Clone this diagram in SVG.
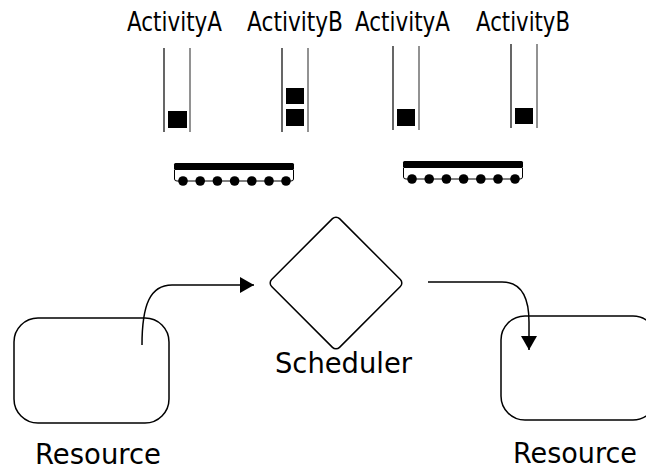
<svg xmlns="http://www.w3.org/2000/svg" width="646" height="470" viewBox="0 0 646 470">
<defs>
<style>
text{font-family:"DejaVu Sans","Liberation Sans",sans-serif;fill:#000}
.lbl{font-size:26px}
.big{font-size:29px}
.tl{stroke:#000;stroke-width:1.2;fill:none}
.tr{stroke:#777;stroke-width:1.6;fill:none}
.sq{fill:#000}
.bar{fill:#000}
.belt{fill:none;stroke:#000;stroke-width:1}
.dot{fill:#000}
.node{fill:#fff;stroke:#000;stroke-width:1.5}
.conn{fill:none;stroke:#000;stroke-width:1.5}
</style>
<marker id="arr" viewBox="0 0 14 16" refX="14" refY="8" markerWidth="14" markerHeight="16" markerUnits="userSpaceOnUse" orient="auto">
<path d="M0,0 L14,8 L0,16 Z" fill="#000"/>
</marker>
<g id="belt">
<rect class="bar" x="0" y="0" width="120" height="7" rx="1.5"/>
<path class="belt" d="M0.5,7 V16 Q0.5,18 3,18 H117 Q119.5,18 119.5,16 V7"/>
<circle class="dot" cx="9" cy="18" r="4.8"/>
<circle class="dot" cx="26.2" cy="18" r="4.8"/>
<circle class="dot" cx="43.4" cy="18" r="4.8"/>
<circle class="dot" cx="60.6" cy="18" r="4.8"/>
<circle class="dot" cx="77.8" cy="18" r="4.8"/>
<circle class="dot" cx="95" cy="18" r="4.8"/>
<circle class="dot" cx="112" cy="18" r="4.8"/>
</g>
</defs>
<g id="labels">
<text class="lbl" x="127" y="31" textLength="95" lengthAdjust="spacingAndGlyphs">ActivityA</text>
<text class="lbl" x="247" y="31" textLength="96" lengthAdjust="spacingAndGlyphs">ActivityB</text>
<text class="lbl" x="355" y="31" textLength="95" lengthAdjust="spacingAndGlyphs">ActivityA</text>
<text class="lbl" x="476" y="31" textLength="94" lengthAdjust="spacingAndGlyphs">ActivityB</text>
</g>
<g id="queueA1">
<line class="tl" x1="164" y1="48" x2="164" y2="132"/>
<line class="tr" x1="190" y1="48" x2="190" y2="132"/>
<rect class="sq" x="168" y="111" width="19" height="17"/>
</g>
<g id="queueB1">
<line class="tl" x1="282" y1="48" x2="282" y2="132"/>
<line class="tr" x1="308" y1="48" x2="308" y2="132"/>
<rect class="sq" x="286" y="88" width="18" height="16"/>
<rect class="sq" x="286" y="109" width="18" height="17"/>
</g>
<g id="queueA2">
<line class="tl" x1="393" y1="46" x2="393" y2="130"/>
<line class="tr" x1="419" y1="46" x2="419" y2="130"/>
<rect class="sq" x="397" y="109" width="18" height="17"/>
</g>
<g id="queueB2">
<line class="tl" x1="511" y1="44" x2="511" y2="128"/>
<line class="tr" x1="537" y1="44" x2="537" y2="128"/>
<rect class="sq" x="515" y="108" width="18" height="16"/>
</g>
<g id="belt1"><use href="#belt" x="174" y="163"/></g>
<g id="belt2"><use href="#belt" x="403" y="161"/></g>
<g id="scheduler">
<rect class="node" x="288" y="235" width="96" height="96" rx="5" transform="rotate(45 336 283)"/>
<text x="275" y="373" textLength="137" lengthAdjust="spacingAndGlyphs" style="font-size:28px">Scheduler</text>
</g>
<g id="resource1">
<rect class="node" x="14" y="318" width="155" height="105" rx="24"/>
<text class="big" x="35" y="464" textLength="126" lengthAdjust="spacingAndGlyphs">Resource</text>
</g>
<g id="resource2">
<rect class="node" x="501" y="316" width="156" height="104" rx="24"/>
<text class="big" x="513" y="463" textLength="124" lengthAdjust="spacingAndGlyphs">Resource</text>
</g>
<g id="connectors">
<path class="conn" d="M142,345 C142,305 150,285 172,285 H254" marker-end="url(#arr)"/>
<path class="conn" d="M428,282 H502 C520,282 529,295 529,322 V350" marker-end="url(#arr)"/>
</g>
</svg>
